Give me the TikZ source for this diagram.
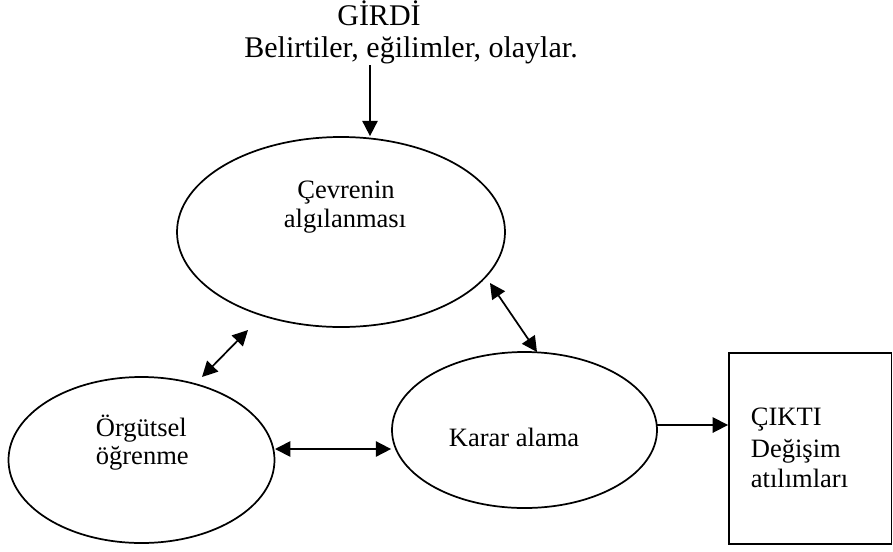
\documentclass[tikz,border=0pt]{standalone}
\usepackage{fontspec}
\setmainfont{Liberation Serif}
\usetikzlibrary{shapes.geometric,arrows.meta}
\begin{document}
\begin{tikzpicture}[x=0.75pt,y=-0.75pt,line width=1.3pt,
  txt/.style={font=\fontsize{19.9}{24}\selectfont,inner sep=0pt,anchor=base},
  bigtxt/.style={txt,font=\fontsize{22.5}{27}\selectfont},
  txtl/.style={txt,anchor=base west},
  ell/.style={draw,ellipse,inner sep=0pt},
  onetip/.style={-{Triangle[length=11.5pt,width=11.5pt]}},
  twotip/.style={{Triangle[length=11.5pt,width=11.5pt]}-{Triangle[length=11.5pt,width=11.5pt]}}]
\useasboundingbox (0,0) rectangle (893,551);
% shapes
\node[ell,minimum width=246pt,minimum height=142.5pt] (cev) at (341,232) {};
\node[ell,minimum width=199.5pt,minimum height=124.5pt] (org) at (141.5,460) {};
\node[ell,minimum width=198.75pt,minimum height=117pt] (kar) at (524.5,430) {};
\node[draw,rectangle,inner sep=0pt,minimum width=122pt,minimum height=143.25pt] (out) at (810.25,448.5) {};
% texts
\node[bigtxt] (girdi) at (379,25) {GİRDİ};
\node[bigtxt] (belirti) at (411,57) {Belirtiler, eğilimler, olaylar.};
\node[txt] (cev1) at (346,198) {Çevrenin};
\node[txt] (cev2) at (345,227) {algılanması};
\node[txtl] (org1) at (95,436) {Örgütsel};
\node[txtl] (org2) at (95,464) {öğrenme};
\node[txtl] (kar1) at (448,446) {Karar alama};
\node[txtl] (out1) at (750,425) {ÇIKTI};
\node[txtl] (out2) at (750,457) {Değişim};
\node[txtl] (out3) at (750,487) {atılımları};
% connectors
\coordinate (inS) at (370,65);
\draw[onetip] (inS) -- (inS |- cev.north);
\coordinate (a1) at (248,330);
\coordinate (a2) at (202,377);
\draw[twotip] (a1) -- (a2);
\coordinate (b1) at (490,283);
\coordinate (b2) at (537,352);
\draw[twotip] (b1) -- (b2);
\coordinate (c1) at (275,449);
\draw[twotip] (c1) -- (c1 -| kar.west);
\coordinate (d1) at (657,425);
\draw[onetip] (d1) -- (d1 -| out.west);
\end{tikzpicture}
\end{document}
